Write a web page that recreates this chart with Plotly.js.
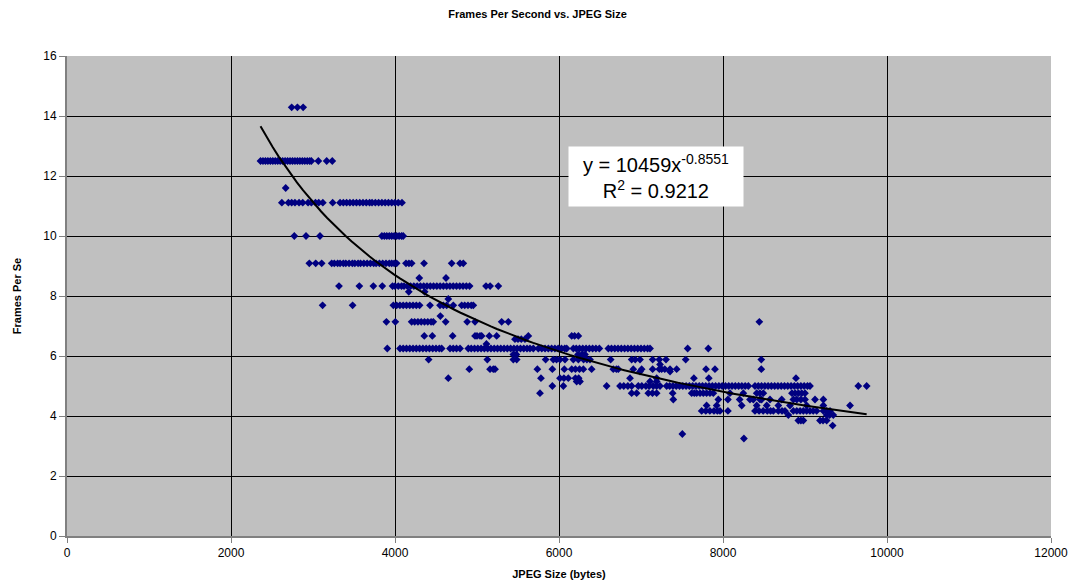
<!DOCTYPE html>
<html>
<head>
<meta charset="utf-8">
<script src="https://cdn.plot.ly/plotly-3.0.1.min.js"></script>
<style>html,body{margin:0;padding:0;background:#fff;}#chart{width:1075px;height:582px;}</style>
</head>
<body>
<div id="chart"></div>
<script>
// Frames per second levels and JPEG sizes (bytes)
const fps_14_29 = [2740, 2810, 2880];
const fps_12_50 = [2360, 2390, 2420, 2450, 2480, 2510, 2540, 2570, 2600, 2630, 2660, 2690, 2720, 2750, 2780, 2810, 2840, 2870, 2900, 2930, 2960, 2980, 3065, 3167, 3235];
const fps_11_60 = [2667];
const fps_11_11 = [2620, 2700, 2740, 2780, 2830, 2875, 2940, 2980, 3030, 3070, 3120, 3240, 3330, 3370, 3410, 3450, 3490, 3530, 3570, 3610, 3650, 3690, 3720, 3760, 3800, 3840, 3880, 3920, 3960, 4000, 4040, 4085];
const fps_10_00 = [2772, 2915, 3085, 3840, 3870, 3900, 3930, 3960, 3990, 4020, 4050, 4080, 4100];
const fps_9_09 = [2955, 3033, 3106, 3228, 3260, 3300, 3330, 3370, 3400, 3440, 3480, 3510, 3550, 3580, 3620, 3660, 3700, 3740, 3770, 3810, 3850, 3890, 3930, 3960, 3990, 4020, 4134, 4170, 4203, 4354, 4691, 4793, 4833];
const fps_8_60 = [4296, 4622];
const fps_8_33 = [3317, 3565, 3736, 3845, 3970, 4000, 4040, 4080, 4110, 4150, 4190, 4230, 4270, 4310, 4350, 4390, 4430, 4470, 4510, 4550, 4590, 4630, 4670, 4710, 4750, 4790, 4830, 4870, 4910, 5110, 5160, 5260];
const fps_8_14 = [4168, 4362];
const fps_7_90 = [4650];
const fps_7_69 = [3117, 3483, 3980, 4020, 4060, 4100, 4140, 4180, 4220, 4260, 4300, 4427, 4549, 4590, 4630, 4711, 4813, 4850, 4890, 4930, 4955];
const fps_7_33 = [4553];
const fps_7_14 = [3895, 4004, 4203, 4240, 4280, 4320, 4360, 4400, 4440, 4467, 4618, 4880, 4976, 5301, 5382, 8443];
const fps_6_67 = [4357, 4455, 4703, 4976, 5000, 5037, 5057, 5150, 5240, 5626, 6155, 6190, 6236];
const fps_6_56 = [5463, 5500, 5540, 5585];
const fps_6_40 = [5115];
const fps_6_25 = [3906, 4061, 4100, 4140, 4180, 4220, 4260, 4300, 4340, 4380, 4420, 4460, 4500, 4540, 4569, 4671, 4710, 4750, 4793, 4894, 4930, 4970, 5010, 5050, 5090, 5130, 5170, 5210, 5250, 5290, 5330, 5370, 5410, 5450, 5490, 5530, 5570, 5610, 5646, 5687, 5748, 5790, 5830, 5870, 5910, 5950, 5990, 6030, 6070, 6094, 6175, 6210, 6250, 6290, 6330, 6370, 6410, 6450, 6492, 6602, 6640, 6680, 6720, 6760, 6800, 6840, 6880, 6920, 6960, 7000, 7040, 7080, 7110, 7569, 7821];
const fps_6_05 = [5443, 5480, 6232, 6280, 6317];
const fps_5_88 = [4410, 5126, 5443, 5484, 5837, 5931, 5970, 6012, 6073, 6175, 6236, 6300, 6340, 6378, 6630, 6886, 6930, 6988, 7142, 7223, 7305, 7545, 8467];
const fps_5_72 = [7232];
const fps_5_56 = [4906, 5159, 5199, 5220, 5736, 5919, 6065, 6155, 6200, 6250, 6297, 6398, 6662, 6700, 6723, 6906, 7008, 7142, 7223, 7252, 7290, 7354, 7435, 7793, 7902, 8467];
const fps_5_48 = [6988, 7354];
const fps_5_26 = [4650, 5780, 6012, 6060, 6113, 6200, 6240, 6866, 7191, 7645, 7827, 8890];
const fps_5_15 = [6215, 6256, 7110, 7191];
const fps_5_00 = [5919, 6053, 6581, 6744, 6790, 6840, 6886, 6967, 7010, 7060, 7100, 7150, 7190, 7232, 7313, 7350, 7390, 7430, 7470, 7510, 7550, 7590, 7630, 7670, 7710, 7750, 7790, 7830, 7870, 7910, 7950, 7990, 8030, 8070, 8110, 8150, 8190, 8230, 8270, 8309, 8390, 8430, 8470, 8510, 8550, 8590, 8630, 8670, 8710, 8750, 8790, 8830, 8870, 8910, 8950, 8990, 9030, 9061, 9650, 9752];
const fps_4_76 = [5768, 6886, 6947, 7089, 7140, 7191, 7386, 7618, 7650, 7679, 7720, 7760, 7800, 7841, 7882, 8085, 8248, 8411, 8450, 8492, 8841, 8880, 8920, 8960, 9000];
const fps_4_55 = [7394, 7943, 8060, 8203, 8329, 8370, 8451, 8472, 8573, 8716, 8858, 8900, 8950, 9000, 9122, 9224];
const fps_4_35 = [7800, 7923, 8228, 8411, 8533, 8675, 8817, 9020, 9224, 9549];
const fps_4_17 = [7740, 7790, 7840, 7890, 7931, 7963, 8060, 8390, 8440, 8490, 8540, 8580, 8614, 8675, 8720, 8756, 8858, 8900, 8940, 8980, 9020, 9060, 9100, 9142, 9224, 9265, 9305];
const fps_4_03 = [8797, 9264, 9300, 9345];
const fps_3_85 = [8919, 8950, 8980, 9183, 9220, 9264];
const fps_3_68 = [9337];
const fps_3_40 = [7504];
const fps_3_25 = [8255];

// axis tick labels
const xTickVals = [0, 2000, 4000, 6000, 8000, 10000, 12000];
const xTickText = ['0', '2000', '4000', '6000', '8000', '10000', '12000'];
const yTickVals = [0, 2, 4, 6, 8, 10, 12, 14, 16];

// trendline coefficients shown on the chart (power fit)
const fitCoef = 10459;
const fitExp = -0.8551;
const fitLabel = 'y = 10459x<sup>-0.8551</sup><br>R<sup>2</sup> = 0.9212';

const levels = [
  [14.29, fps_14_29], [12.5, fps_12_50], [11.6, fps_11_60], [11.11, fps_11_11],
  [10.0, fps_10_00], [9.09, fps_9_09], [8.6, fps_8_60], [8.33, fps_8_33],
  [8.14, fps_8_14], [7.9, fps_7_90], [7.69, fps_7_69], [7.33, fps_7_33],
  [7.14, fps_7_14], [6.67, fps_6_67], [6.56, fps_6_56], [6.4, fps_6_40],
  [6.25, fps_6_25], [6.05, fps_6_05], [5.88, fps_5_88], [5.72, fps_5_72],
  [5.56, fps_5_56], [5.48, fps_5_48], [5.26, fps_5_26], [5.15, fps_5_15],
  [5.0, fps_5_00], [4.76, fps_4_76], [4.55, fps_4_55], [4.35, fps_4_35],
  [4.17, fps_4_17], [4.03, fps_4_03], [3.85, fps_3_85], [3.68, fps_3_68],
  [3.4, fps_3_40], [3.25, fps_3_25]
];

const xs = [], ys = [];
levels.forEach(([f, arr]) => arr.forEach(s => { xs.push(s); ys.push(f); }));

// trendline across the data range from the fitted equation
const xmin = Math.min(...xs), xmax = Math.max(...xs);
const tx = [], ty = [];
for (let i = 0; i <= 100; i++) {
  const x = xmin + (xmax - xmin) * i / 100;
  tx.push(x); ty.push(fitCoef * Math.pow(x, fitExp));
}

const font = 'Liberation Sans, Arial, sans-serif';
const data = [
  {x: xs, y: ys, type: 'scatter', mode: 'markers',
   marker: {symbol: 'diamond', size: 6, color: '#000080'}, hoverinfo: 'none'},
  {x: tx, y: ty, type: 'scatter', mode: 'lines',
   line: {color: '#000000', width: 2}, hoverinfo: 'none'}
];

const layout = {
  width: 1075, height: 582,
  margin: {l: 67, r: 24, t: 56, b: 46},
  paper_bgcolor: '#ffffff', plot_bgcolor: '#c0c0c0',
  showlegend: false,
  title: {text: '<b>Frames Per Second vs. JPEG Size</b>', font: {family: font, size: 11, color: '#000'}, x: 0.5, xanchor: 'center', y: 0.975, yanchor: 'middle'},
  xaxis: {
    range: [0, 12000], tickvals: xTickVals, ticktext: xTickText,
    showgrid: true, gridcolor: '#000000', gridwidth: 1, zeroline: false,
    showline: true, linecolor: '#808080', linewidth: 2,
    ticks: 'outside', ticklen: 5, tickcolor: '#808080',
    tickfont: {family: font, size: 12, color: '#000'},
    title: {text: '<b>JPEG Size (bytes)</b>', font: {family: font, size: 11, color: '#000'}, standoff: 11}
  },
  yaxis: {
    range: [0, 16], tickvals: yTickVals,
    showgrid: true, gridcolor: '#000000', gridwidth: 1, zeroline: false,
    showline: true, linecolor: '#808080', linewidth: 2,
    ticks: 'outside', ticklen: 6, tickcolor: '#808080',
    tickfont: {family: font, size: 12, color: '#000'},
    title: {text: '<b>Frames Per Se</b>', font: {family: font, size: 11, color: '#000'}, standoff: 19}
  },
  annotations: [{
    x: 7177, y: 11.97, xref: 'x', yref: 'y', xanchor: 'center', yanchor: 'middle',
    text: fitLabel, showarrow: false, align: 'center',
    bgcolor: '#ffffff', borderpad: 0, width: 174, height: 59,
    font: {family: font, size: 20, color: '#000'}
  }]
};

Plotly.newPlot('chart', data, layout, {staticPlot: true, displayModeBar: false});
</script>
</body>
</html>
